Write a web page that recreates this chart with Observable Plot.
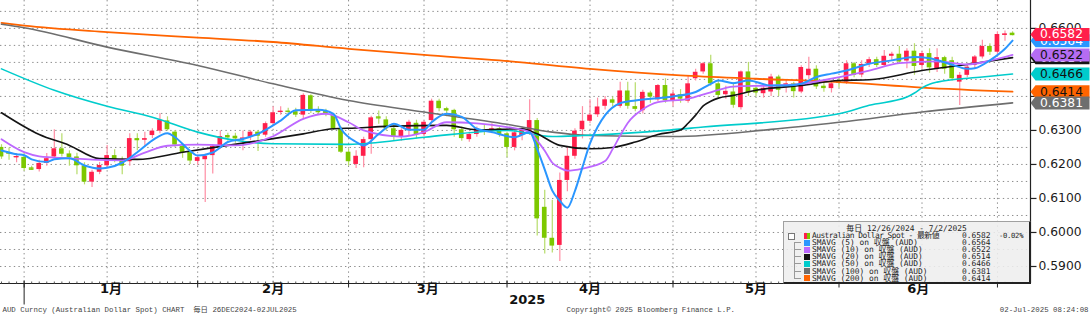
<!DOCTYPE html>
<html lang="ja"><head><meta charset="utf-8">
<script src="https://cdn.jsdelivr.net/npm/d3@7"></script>
<script src="https://cdn.jsdelivr.net/npm/@observablehq/plot@0.6"></script>
<style>
html,body{margin:0;padding:0;background:#fff;}
#wrap{position:relative;width:1090px;height:315px;overflow:hidden;}
#legend{position:absolute;left:783px;top:221px;width:245px;height:60px;background:rgba(238,238,238,0.88);border-top:1px solid #a0a0a0;border-left:1px solid #a0a0a0;border-right:2px solid #222;border-bottom:2px solid #222;font-family:"DejaVu Sans Mono","Noto Sans CJK JP",monospace;font-size:7.9px;color:#1e1e1e;overflow:hidden;}
#legend span{position:absolute;white-space:pre;line-height:7px;height:7px;}
</style></head><body><div id="wrap"></div>
<script>
// ---------- data ----------
const opens = [0.6250,0.6235,0.6220,0.6221,0.6190,0.6185,0.6203,0.6222,0.6246,0.6231,
0.6222,0.6196,0.6148,0.6177,0.6196,0.6226,0.6214,0.6208,0.6276,0.6272,
0.6285,0.6298,0.6328,0.6295,0.6253,0.6235,0.6209,0.6214,0.6226,0.6253,
0.6285,0.6283,0.6274,0.6280,0.6295,0.6286,0.6320,0.6353,0.6357,0.6355,
0.6345,0.6402,0.6358,0.6356,0.6345,0.6305,0.6236,0.6200,0.6224,0.6273,
0.6340,0.6331,0.6305,0.6282,0.6300,0.6321,0.6288,0.6329,0.6386,0.6364,
0.6359,0.6302,0.6273,0.6288,0.6302,0.6298,0.6305,0.6290,0.6250,0.6285,
0.6290,0.6329,0.6074,0.5983,0.5962,0.6153,0.6224,0.6302,0.6327,0.6346,
0.6371,0.6390,0.6371,0.6416,0.6370,0.6358,0.6410,0.6390,0.6432,0.6387,
0.6405,0.6386,0.6452,0.6472,0.6496,0.6437,0.6405,0.6413,0.6367,0.6472,
0.6424,0.6408,0.6413,0.6457,0.6427,0.6437,0.6413,0.6461,0.6480,0.6430,
0.6423,0.6445,0.6442,0.6496,0.6463,0.6494,0.6508,0.6491,0.6518,0.6524,
0.6504,0.6533,0.6491,0.6526,0.6479,0.6514,0.6505,0.6442,0.6462,0.6491,
0.6516,0.6547,0.6530,0.6580,0.6586];
const highs = [0.6258,0.6248,0.6232,0.6232,0.6195,0.6212,0.6232,0.6302,0.6290,0.6240,
0.6233,0.6205,0.6183,0.6206,0.6256,0.6243,0.6222,0.6290,0.6290,0.6295,
0.6305,0.6350,0.6340,0.6300,0.6258,0.6240,0.6228,0.6230,0.6258,0.6298,
0.6292,0.6292,0.6298,0.6300,0.6300,0.6325,0.6370,0.6370,0.6365,0.6365,
0.6408,0.6405,0.6370,0.6362,0.6350,0.6310,0.6245,0.6240,0.6280,0.6342,
0.6357,0.6340,0.6320,0.6305,0.6330,0.6330,0.6328,0.6392,0.6392,0.6368,
0.6362,0.6310,0.6295,0.6310,0.6315,0.6320,0.6310,0.6295,0.6300,0.6310,
0.6390,0.6335,0.6124,0.6095,0.6175,0.6250,0.6305,0.6370,0.6390,0.6395,
0.6400,0.6398,0.6442,0.6442,0.6440,0.6418,0.6415,0.6435,0.6452,0.6418,
0.6420,0.6460,0.6480,0.6500,0.6521,0.6445,0.6430,0.6440,0.6475,0.6500,
0.6430,0.6432,0.6465,0.6462,0.6450,0.6442,0.6490,0.6515,0.6490,0.6440,
0.6445,0.6452,0.6505,0.6500,0.6505,0.6515,0.6515,0.6535,0.6530,0.6547,
0.6540,0.6555,0.6532,0.6540,0.6540,0.6518,0.6515,0.6470,0.6495,0.6520,
0.6565,0.6555,0.6590,0.6592,0.6590];
const lows = [0.6215,0.6212,0.6205,0.6180,0.6182,0.6178,0.6195,0.6218,0.6222,0.6195,
0.6170,0.6140,0.6132,0.6170,0.6190,0.6205,0.6170,0.6195,0.6240,0.6250,
0.6276,0.6290,0.6298,0.6250,0.6218,0.6200,0.6198,0.6088,0.6172,0.6245,
0.6268,0.6262,0.6240,0.6270,0.6238,0.6280,0.6315,0.6345,0.6342,0.6338,
0.6333,0.6350,0.6345,0.6340,0.6300,0.6232,0.6195,0.6188,0.6190,0.6230,
0.6318,0.6298,0.6270,0.6268,0.6285,0.6275,0.6282,0.6320,0.6355,0.6340,
0.6280,0.6268,0.6265,0.6280,0.6285,0.6290,0.6280,0.6220,0.6240,0.6270,
0.6285,0.5990,0.5937,0.5940,0.5915,0.6120,0.6215,0.6275,0.6320,0.6338,
0.6360,0.6370,0.6365,0.6362,0.6355,0.6348,0.6380,0.6385,0.6380,0.6370,
0.6380,0.6380,0.6445,0.6465,0.6430,0.6395,0.6392,0.6365,0.6360,0.6400,
0.6398,0.6395,0.6400,0.6400,0.6410,0.6395,0.6408,0.6450,0.6420,0.6412,
0.6410,0.6425,0.6435,0.6455,0.6455,0.6485,0.6485,0.6485,0.6505,0.6495,
0.6481,0.6462,0.6480,0.6468,0.6470,0.6465,0.6445,0.6373,0.6455,0.6480,
0.6510,0.6520,0.6520,0.6562,0.6578];
const closes = [0.6222,0.6230,0.6223,0.6188,0.6186,0.6203,0.6217,0.6246,0.6230,0.6220,
0.6196,0.6148,0.6177,0.6197,0.6226,0.6212,0.6195,0.6276,0.6273,0.6275,
0.6298,0.6330,0.6302,0.6257,0.6233,0.6210,0.6220,0.6224,0.6253,0.6282,
0.6278,0.6275,0.6277,0.6295,0.6283,0.6320,0.6352,0.6356,0.6353,0.6345,
0.6403,0.6357,0.6352,0.6348,0.6305,0.6236,0.6208,0.6224,0.6273,0.6337,
0.6337,0.6305,0.6280,0.6300,0.6324,0.6288,0.6324,0.6386,0.6364,0.6357,
0.6302,0.6276,0.6288,0.6305,0.6299,0.6305,0.6288,0.6250,0.6293,0.6300,
0.6329,0.6040,0.5983,0.5960,0.6153,0.6224,0.6298,0.6327,0.6345,0.6369,
0.6390,0.6380,0.6416,0.6371,0.6362,0.6412,0.6398,0.6432,0.6387,0.6407,
0.6392,0.6437,0.6471,0.6496,0.6437,0.6403,0.6415,0.6374,0.6472,0.6410,
0.6410,0.6424,0.6457,0.6418,0.6437,0.6414,0.6485,0.6480,0.6428,0.6423,
0.6437,0.6438,0.6496,0.6462,0.6494,0.6508,0.6491,0.6518,0.6524,0.6501,
0.6533,0.6488,0.6526,0.6484,0.6514,0.6480,0.6452,0.6462,0.6486,0.6516,
0.6547,0.6530,0.6582,0.6583,0.6582];

// moving averages: [trading-day index, value]
const sma5 = [[0,.6241],[2,.6230],[3,.6227],[4,.6215],[6,.6207],[7,.6215],[9,.6218],[11,.6197],[13,.6188],[14,.6190],[16,.6205],[18,.6236],[20,.6271],[22,.6292],[23,.6280],[25,.6240],[26,.6226],[28,.6235],[30,.6266],[32,.6275],[34,.6290],[37,.6329],[39,.6359],[42,.6361],[44,.6349],[45,.6305],[47,.6266],[48,.6256],[50,.6290],[52,.6320],[54,.6302],[56,.6302],[57,.6324],[59,.6349],[61,.6340],[63,.6305],[65,.6295],[68,.6280],[70,.6295],[71,.6245],[72,.6185],[73,.6123],[74,.6093],[75,.6073],[76,.6122],[77,.6192],[78,.6262],[79,.6310],[80,.6345],[82,.6380],[84,.6388],[89,.6400],[92,.6413],[94,.6437],[95,.6447],[97,.6439],[99,.6447],[102,.6432],[104,.6432],[106,.6437],[108,.6457],[110,.6467],[112,.6476],[115,.6496],[118,.6506],[121,.6516],[123,.6512],[126,.6493],[128,.6481],[129,.6483],[131,.6506],[133,.6540],[134,.6564]];
const sma10 = [[0,.6274],[3,.6236],[5,.6224],[9,.6218],[12,.6214],[16,.6212],[19,.6235],[22,.6255],[26,.6258],[31,.6256],[36,.6283],[40,.6334],[43,.6349],[46,.6324],[48,.6300],[53,.6282],[56,.6295],[59,.6324],[63,.6321],[67,.6310],[70,.6295],[71,.6270],[72,.6240],[73,.6205],[74,.6190],[75,.6182],[77,.6188],[80,.6210],[81,.6245],[82,.6285],[83,.6322],[85,.6362],[87,.6383],[91,.6393],[94,.6412],[97,.6429],[102,.6432],[106,.6437],[110,.6452],[115,.6476],[119,.6498],[124,.6503],[128,.6494],[131,.6505],[134,.6522]];
const sma20 = [[0,.6352],[5,.6288],[9,.6256],[13,.6217],[18,.6215],[24,.6236],[30,.6256],[36,.6276],[40,.6290],[44,.6305],[47,.6307],[51,.6312],[59,.6315],[63,.6302],[69,.6305],[71,.6290],[74,.6256],[78,.6246],[81,.6250],[84,.6266],[87,.6288],[90,.6301],[91,.6321],[92,.6345],[93,.6372],[94,.6386],[95,.6395],[97,.6403],[100,.6418],[106,.6432],[111,.6447],[115,.6449],[122,.6476],[128,.6494],[134,.6514]];
const sma50 = [[0,.6481],[7,.6418],[14,.6371],[20,.6339],[26,.6295],[31,.6271],[36,.6261],[46,.6259],[56,.6280],[67,.6300],[73,.6282],[77,.6285],[85,.6295],[93,.6310],[111,.6349],[115,.6374],[120,.6398],[121,.6410],[122,.6425],[123,.6436],[124,.6442],[130,.6457],[134,.6466]];
const sma100 = [[0,.6612],[3,.6602],[14,.6545],[26,.6491],[36,.6437],[46,.6388],[56,.6354],[67,.6318],[73,.6295],[78,.6285],[89,.6282],[102,.6303],[111,.6324],[122,.6354],[134,.6381]];
const sma200 = [[0,.6616],[3,.6608],[14,.6589],[26,.6573],[36,.6560],[46,.6540],[56,.6522],[66,.6506],[78,.6481],[90,.6462],[100,.6452],[111,.6442],[122,.6426],[134,.6414]];

const seriesNames = ["SMAVG (5) on 収盤 (AUD)","SMAVG (10) on 収盤 (AUD)","SMAVG (20) on 収盤 (AUD)","SMAVG (50) on 収盤 (AUD)","SMAVG (100) on 収盤 (AUD)","SMAVG (200) on 収盤 (AUD)"];
const lastValues = [0.6564, 0.6522, 0.6514, 0.6466, 0.6381, 0.6414];
const seriesColors = ["#2a96ff", "#bd68ff", "#141414", "#00cccc", "#6e6e6e", "#ff6400"];
const priceName = "Australian Dollar Spot - 最新値";
const lastPrice = 0.6582, pctChange = "-0.02%";
const legendTitle = "毎日 12/26/2024 - 7/2/2025";

const yTicks = [0.59, 0.60, 0.61, 0.62, 0.63, 0.64, 0.65, 0.66];
const yGrid = [0.585,0.59,0.595,0.60,0.605,0.61,0.615,0.62,0.625,0.63,0.635,0.64,0.645,0.65,0.655,0.66,0.665];
const monthLabels = ["1月","2月","3月","4月","5月","6月"];
const monthEndIdx = [3, 26, 46, 67, 89, 111, 132];   // last trading day of Dec..Jun
const midMonthIdx = [14, 36, 56, 78, 100, 122];
const yearLabel = "2025";
const footLeft = "AUD Curncy (Australian Dollar Spot) CHART  毎日 26DEC2024-02JUL2025";
const footMid = "Copyright© 2025 Bloomberg Finance L.P.";
const footRight = "02-Jul-2025 08:24:08";

// ---------- build ----------
const UP = "#ff1f4b", DOWN = "#7cc800", UPW = "#ff8ea4", DOWNW = "#b6dc6a";
const candles = closes.map((c, i) => ({i, o: opens[i], h: highs[i], l: lows[i], c, up: c >= opens[i]}));
const xMin = -0.1325, xMax = 136.38, yMin = 0.585, yMax = 0.6682;
const half = 0.31;

const sym = (f) => ({draw: f});
const vTickMinor = sym(c => {c.moveTo(0, 0); c.lineTo(0, -2);});
const vTickMonth = sym(c => {c.moveTo(0, -3); c.lineTo(0, 4);});
const vTickYear = sym(c => {c.moveTo(0, 0); c.lineTo(0, 21);});
const hTick = sym(c => {c.moveTo(0, 0); c.lineTo(6, 0);});
const tagShape = sym(c => {c.moveTo(-29, 0); c.lineTo(-24, -6.5); c.lineTo(30, -6.5); c.lineTo(30, 6.5); c.lineTo(-24, 6.5); c.closePath();});

const lines = [sma200, sma100, sma50, sma20, sma10, sma5];
const lineColors = [seriesColors[5], seriesColors[4], seriesColors[3], seriesColors[2], seriesColors[1], seriesColors[0]];
const lineWidths = [1.8, 1.6, 1.6, 1.6, 1.8, 2];

const months = monthLabels.map((m, k) => ({x: (monthEndIdx[k] + monthEndIdx[k + 1]) / 2, t: m}));

const tags = [
  {v: lastValues[2], label: lastValues[2].toFixed(4), fill: seriesColors[2], tc: "#fff"},
  {v: lastValues[0], label: lastValues[0].toFixed(4), fill: seriesColors[0], tc: "#fff"},
  {v: lastValues[3], label: lastValues[3].toFixed(4), fill: seriesColors[3], tc: "#111"},
  {v: lastValues[5], label: lastValues[5].toFixed(4), fill: seriesColors[5], tc: "#111"},
  {v: lastValues[4], label: lastValues[4].toFixed(4), fill: seriesColors[4], tc: "#fff"},
  {v: lastValues[1], label: lastValues[1].toFixed(4), fill: "#b56cf2", tc: "#111"},
  {v: lastPrice, label: lastPrice.toFixed(4), fill: UP, tc: "#fff"}
];
// axis labels that are fully covered by value tags are not drawn
const covered = v => tags.some(t => Math.abs(t.v - v) < 0.0016);

const marks = [
  Plot.ruleY(yGrid, {stroke: "#8c8c8c", strokeDasharray: "1.4,3.2"}),
  Plot.ruleX(monthEndIdx.concat(midMonthIdx), {stroke: "#8c8c8c", strokeDasharray: "1.4,3.2"}),
  Plot.ruleX(candles, {x: "i", y1: "l", y2: "h", stroke: d => d.up ? UPW : DOWNW, strokeWidth: 1.2}),
  Plot.rect(candles, {x1: d => d.i - half, x2: d => d.i + half, y1: "o", y2: "c", fill: d => d.up ? UP : DOWN}),
  Plot.ruleY(candles.filter(d => Math.abs(d.o - d.c) < 0.0004), {y: "c", x1: d => d.i - half, x2: d => d.i + half, stroke: d => d.up ? UP : DOWN, strokeWidth: 1.3}),
  ...lines.map((ln, k) => Plot.line(ln, {x: d => d[0], y: d => d[1], stroke: lineColors[k], strokeWidth: lineWidths[k], curve: "monotone-x"})),
  Plot.ruleX([xMax], {stroke: "#222", strokeWidth: 1.2}),
  Plot.ruleY([yMin], {stroke: "#222", strokeWidth: 1.2}),
  Plot.dot(candles, {x: "i", frameAnchor: "bottom", symbol: vTickMinor, stroke: "#555", fill: "none", strokeWidth: 1}),
  Plot.dot(monthEndIdx, {x: d => d, frameAnchor: "bottom", symbol: vTickMonth, stroke: "#222", fill: "none", strokeWidth: 1}),
  Plot.dot([monthEndIdx[0]], {x: d => d, frameAnchor: "bottom", symbol: vTickYear, stroke: "#222", fill: "none", strokeWidth: 1}),
  Plot.dot(yTicks, {y: d => d, frameAnchor: "right", symbol: hTick, stroke: "#222", fill: "none", strokeWidth: 1.2}),
  Plot.text(yTicks.filter(v => !covered(v) || v === 0.66), {y: d => d, text: d => d3.format(".4f")(d), frameAnchor: "right", dx: 8, textAnchor: "start", fontSize: 12.3, fill: "#1a1a1a"}),
  ...tags.flatMap(t => [
    Plot.dot([t], {y: "v", frameAnchor: "right", dx: 29, symbol: tagShape, fill: t.fill, stroke: "none"}),
    Plot.text([t], {y: "v", text: "label", frameAnchor: "right", dx: 31, textAnchor: "middle", fontSize: 12.3, fill: t.tc})
  ]),
  Plot.text(months, {x: "x", text: "t", frameAnchor: "bottom", dy: 9.5, fontSize: 13, fontWeight: "bold", fill: "#111"}),
  Plot.text([yearLabel], {x: () => (monthEndIdx[0] + xMax) / 2, text: d => d, frameAnchor: "bottom", dy: 20.5, fontSize: 13, fontWeight: "bold", fill: "#111"}),
  Plot.text([footLeft], {text: d => d, frameAnchor: "bottom-left", dx: 2, dy: 28, textAnchor: "start", fontFamily: "Liberation Mono, Noto Sans CJK JP, monospace", fontSize: 7.4, fill: "#444"}),
  Plot.text([footMid], {text: d => d, frameAnchor: "bottom-left", dx: 566, dy: 28, textAnchor: "start", fontFamily: "Liberation Mono, monospace", fontSize: 7.4, fill: "#444"}),
  Plot.text([footRight], {text: d => d, frameAnchor: "bottom-right", dx: 58, dy: 28, textAnchor: "end", fontFamily: "Liberation Mono, monospace", fontSize: 7.4, fill: "#444"})
];

const chart = Plot.plot({
  width: 1090, height: 315,
  marginLeft: 0, marginRight: 60, marginTop: 0, marginBottom: 32,
  x: {type: "linear", domain: [xMin, xMax], axis: null},
  y: {type: "linear", domain: [yMin, yMax], axis: null},
  color: {type: "identity"},
  style: {fontFamily: "DejaVu Sans, Noto Sans CJK JP, sans-serif", background: "#fff", overflow: "visible"},
  marks
});
const wrap = document.getElementById("wrap");
wrap.appendChild(chart);

// ---------- legend ----------
const lg = document.createElement("div");
lg.id = "legend";
const add = (txt, left, top, extra) => {
  const s = document.createElement("span");
  s.textContent = txt; s.style.left = left + "px"; s.style.top = top + "px";
  if (extra) Object.assign(s.style, extra);
  lg.appendChild(s); return s;
};
add(legendTitle, 0, 2.5, {width: "245px", textAlign: "center"});
const rowTop = k => 10 + k * 7.1;
// price row
add("", 4, rowTop(0) + 0.5, {width: "5px", height: "5px", border: "1px solid #777", background: "#fff"});
add("", 20, rowTop(0) + 0.5, {width: "3px", height: "6px", background: UP});
add("", 23, rowTop(0) + 0.5, {width: "3px", height: "6px", background: DOWN});
add(priceName, 28, rowTop(0), {letterSpacing: "-0.55px"});
add(lastPrice.toFixed(4), 178, rowTop(0));
add(pctChange, 215, rowTop(0), {fontSize: "7.2px", letterSpacing: "-0.3px"});
// tree bracket
add("", 10, rowTop(1) + 3, {width: "0px", height: (rowTop(6) - rowTop(1)) + "px", borderLeft: "1px solid #999"});
seriesNames.forEach((n, k) => {
  const t = rowTop(k + 1);
  add("", 10, t + 3, {width: "7px", height: "0px", borderTop: "1px solid #999"});
  add("", 20, t + 0.5, {width: "6px", height: "6px", background: seriesColors[k]});
  add(n, 28, t);
  add(lastValues[k].toFixed(4), 178, t);
});
wrap.appendChild(lg);
</script></body></html>
